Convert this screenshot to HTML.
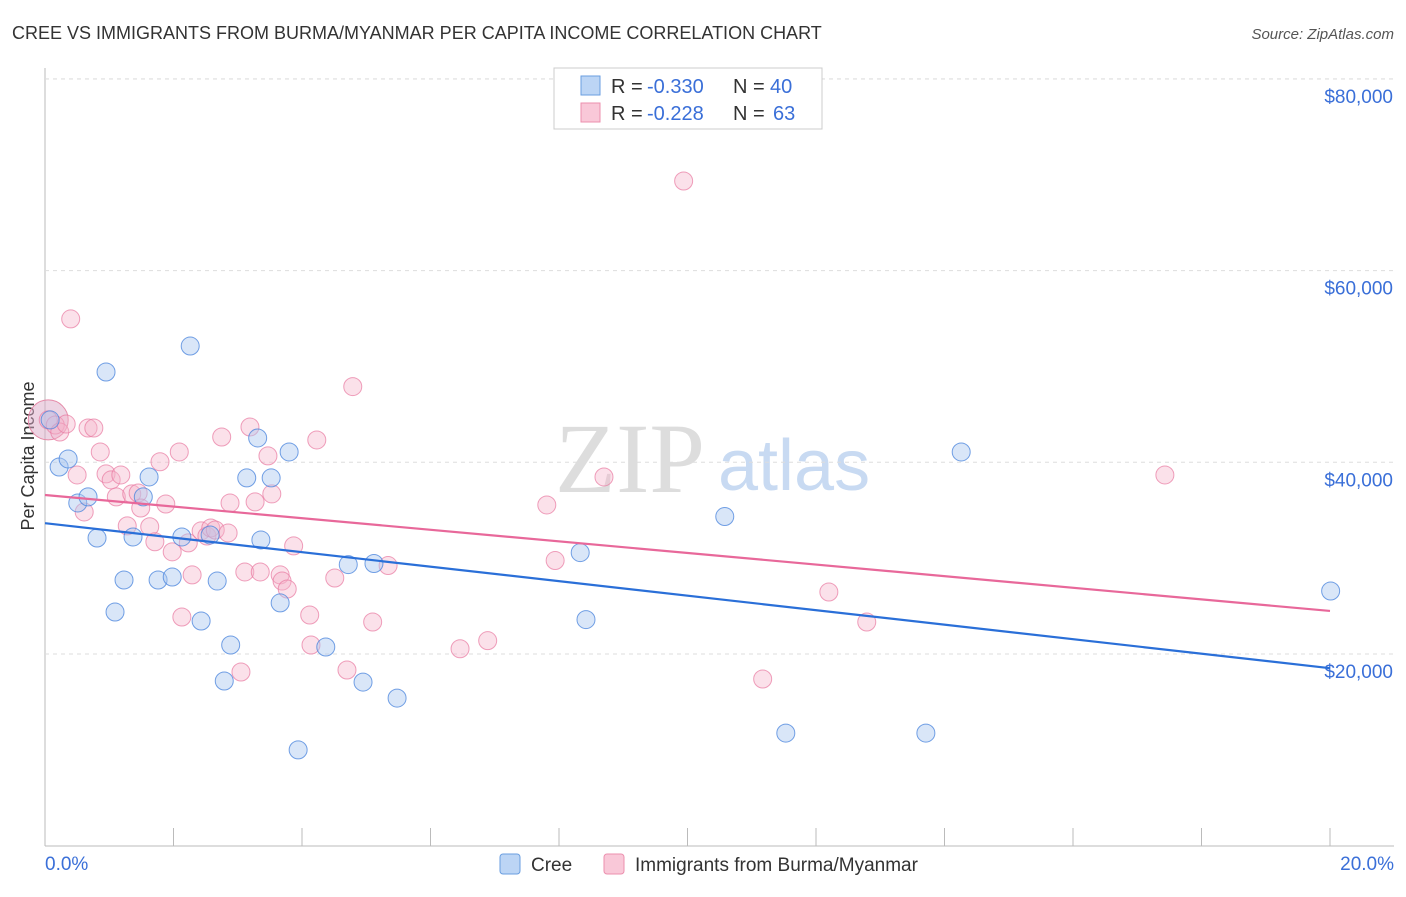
<!DOCTYPE html>
<html><head><meta charset="utf-8"><style>
body{margin:0;background:#fff;font-family:"Liberation Sans",sans-serif}
svg text{font-family:"Liberation Sans",sans-serif}
</style></head><body>
<svg id="c" width="1406" height="892">
<text x="12" y="39" font-size="18" fill="#333">CREE VS IMMIGRANTS FROM BURMA/MYANMAR PER CAPITA INCOME CORRELATION CHART</text>
<text x="1394" y="39" font-size="15" fill="#555" font-style="italic" text-anchor="end">Source: ZipAtlas.com</text>
<text x="555" y="492" font-size="100" fill="#ddd" style="font-family:'Liberation Serif',serif">ZIP</text>
<text x="718" y="490" font-size="72" fill="#c8daf2">atlas</text>
<text transform="translate(34,456) rotate(-90)" font-size="18" fill="#333" text-anchor="middle">Per Capita Income</text>
<g id="grid"></g><g id="pts"></g><g id="lines"></g>
<g>
<rect x="554" y="68" width="268" height="61" fill="#fff" stroke="#ccc"/>
<rect x="581" y="76" width="19" height="19" fill="#bcd5f5" stroke="#6a9ee0"/>
<rect x="581" y="103" width="19" height="19" fill="#f9c8d8" stroke="#ec8fae"/>
<text x="611" y="93" font-size="20" fill="#333">R =</text>
<text x="647" y="93" font-size="20" fill="#3a6fd8">-0.330</text>
<text x="733" y="93" font-size="20" fill="#333">N =</text>
<text x="770" y="93" font-size="20" fill="#3a6fd8">40</text>
<text x="611" y="120" font-size="20" fill="#333">R =</text>
<text x="647" y="120" font-size="20" fill="#3a6fd8">-0.228</text>
<text x="733" y="120" font-size="20" fill="#333">N =</text>
<text x="773" y="120" font-size="20" fill="#3a6fd8">63</text>
</g>
<g>
<rect x="500" y="854" width="20" height="20" rx="3" fill="#bcd5f5" stroke="#6a9ee0"/>
<text x="531" y="871" font-size="19" fill="#333">Cree</text>
<rect x="604" y="854" width="20" height="20" rx="3" fill="#f9c8d8" stroke="#ec8fae"/>
<text x="635" y="871" font-size="19" fill="#333">Immigrants from Burma/Myanmar</text>
</g>
</svg>
<script>
const yTicks=[20000,40000,60000,80000];
const yTickLabels=["$20,000","$40,000","$60,000","$80,000"];
const xTicks=[0,2,4,6,8,10,12,14,16,18,20];
const creeX=[0.08,0.22,0.36,0.51,0.67,0.81,0.95,1.09,1.23,1.37,1.53,1.62,1.76,1.98,2.13,2.26,2.43,2.57,2.68,2.79,2.89,3.14,3.31,3.36,3.52,3.66,3.80,3.94,4.37,4.72,4.95,5.12,5.48,8.33,8.42,10.58,11.53,13.71,14.26,20.01];
const creeY=[44420,39510,40350,35760,36390,32100,49420,24380,27720,32210,36390,38470,27720,28030,32210,52130,23440,32420,27610,17180,20940,38370,42540,31900,38370,25330,41080,10000,20730,29330,17070,29440,15400,30580,23590,34340,11750,11750,41080,26570];
const burX=[0.05,0.16,0.23,0.33,0.40,0.50,0.61,0.67,0.76,0.86,0.95,1.03,1.11,1.18,1.28,1.35,1.45,1.49,1.63,1.71,1.79,1.88,1.98,2.09,2.13,2.23,2.29,2.43,2.52,2.58,2.65,2.75,2.85,2.88,3.05,3.11,3.19,3.27,3.35,3.47,3.53,3.66,3.69,3.77,3.87,4.12,4.14,4.23,4.51,4.70,4.79,5.10,5.34,6.46,6.89,7.81,7.94,8.70,9.94,11.17,12.20,12.79,17.43];
const burY=[44420,43890,43160,43990,54960,38680,34820,43580,43580,41080,38790,38160,36390,38680,33370,36700,36800,35230,33280,31710,40060,35650,30660,41080,23860,31590,28250,32840,32310,33150,32940,42640,32630,35760,18120,28560,43680,35870,28560,40670,36700,28250,27610,26780,31280,24070,20940,42330,27930,18330,47900,23340,29230,20550,21390,35550,29750,38470,69350,17390,26470,23340,38680];
const creeTrend=[33650,18520];
const burTrend=[36590,24490];
const NS='http://www.w3.org/2000/svg';
const X=v=>45+v/20*1285;
const Y=v=>845.7-v/20000*191.7;
function mk(tag,a,p){const e=document.createElementNS(NS,tag);for(const k in a)e.setAttribute(k,a[k]);p.appendChild(e);return e;}
const g=document.getElementById('grid');
let ax=mk('line',{x1:45,y1:68,x2:45,y2:846,stroke:'#bbb'},g);


let bx=mk('line',{x1:45,y1:846,x2:1394,y2:846,stroke:'#bbb'},g);


mk('line',{x1:45,y1:79,x2:1394,y2:79,stroke:'#ddd','stroke-dasharray':'4 4'},g);
yTicks.forEach((t,i)=>{
 const l=mk('line',{x1:45,y1:Y(t),x2:1394,y2:Y(t),stroke:'#ddd','stroke-dasharray':'4 4'},g);
 
 
 const tx=mk('text',{x:1393,y:Y(t)+24,'font-size':19,fill:'#3a6fd8','text-anchor':'end'},g);
 tx.textContent=yTickLabels[i];
 
 
});
xTicks.forEach(t=>{const l=mk('line',{x1:X(t),y1:828,x2:X(t),y2:846,stroke:'#bbb'},g);
 
 });
[[0,'0.0%','start',45],[20,'20.0%','end',1394]].forEach(d=>{const t=mk('text',{x:d[3],y:870,'font-size':19,fill:'#3a6fd8','text-anchor':d[2]},g);t.textContent=d[1];
 
 });
const p=document.getElementById('pts');
const big=mk('circle',{cx:X(0.05),cy:Y(44420),r:20,fill:'rgba(220,170,200,0.5)',stroke:'#e58aa8'},p);


burX.forEach((x,i)=>{const c=mk('circle',{cx:X(x),cy:Y(burY[i]),r:9,fill:'rgba(246,180,203,0.4)',stroke:'rgba(232,120,160,0.7)'},p);
 
 });
creeX.forEach((x,i)=>{const c=mk('circle',{cx:X(x),cy:Y(creeY[i]),r:9,fill:'rgba(170,200,240,0.45)',stroke:'rgba(70,130,220,0.75)'},p);
 
 });
const L=document.getElementById('lines');
const t1=mk('line',{x1:X(0),y1:Y(burTrend[0]),x2:X(20),y2:Y(burTrend[1]),stroke:'#e8689a','stroke-width':2.2},L);


const t2=mk('line',{x1:X(0),y1:Y(creeTrend[0]),x2:X(20),y2:Y(creeTrend[1]),stroke:'#2a6fd8','stroke-width':2.2},L);


</script>
</body></html>
